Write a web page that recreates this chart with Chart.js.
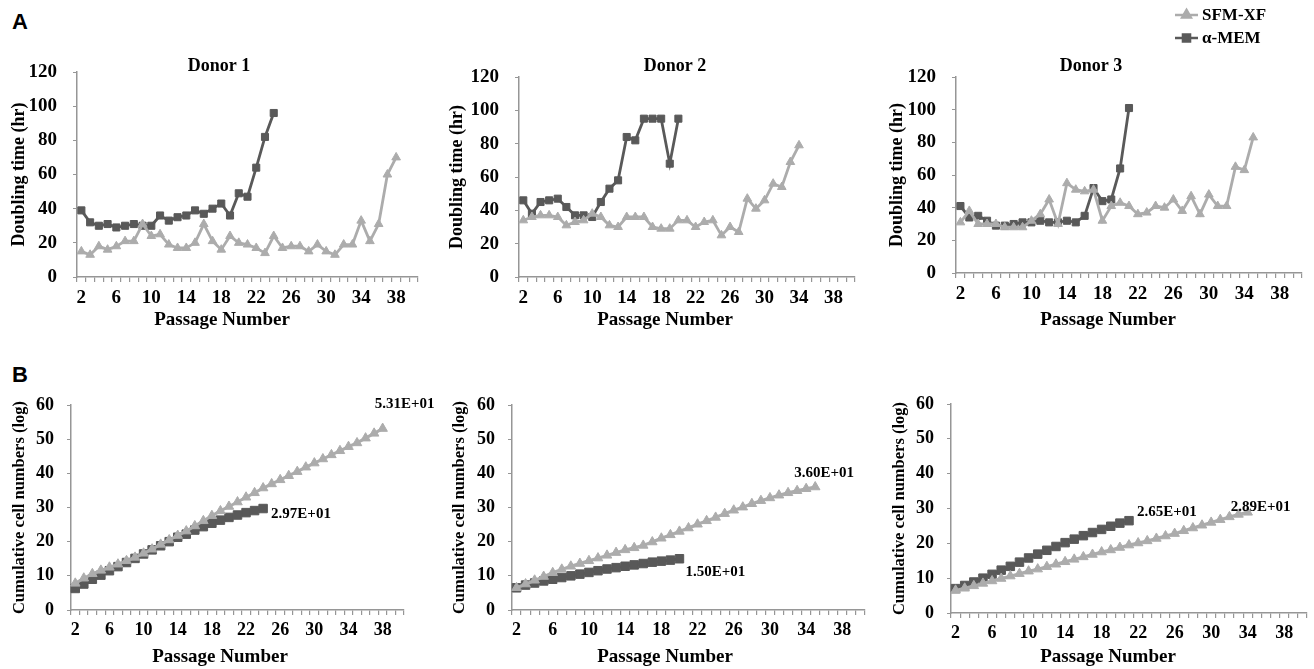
<!DOCTYPE html>
<html>
<head>
<meta charset="utf-8">
<script src="https://cdn.jsdelivr.net/npm/chart.js"></script>
<style>
  body { margin: 0; background: #fff; width: 1314px; height: 669px; position: relative; overflow: hidden; }
  canvas { position: absolute; }
  .tag { position: absolute; font: bold 22px "Liberation Sans", Arial, sans-serif; color: #000; }
</style>
</head>
<body>
<div class="tag" style="left:12px;top:9px">A</div>
<div class="tag" style="left:12px;top:362px">B</div>

<canvas id="a1" width="436" height="335" style="left:0px;top:0px"></canvas>
<canvas id="a2" width="470" height="335" style="left:440px;top:0px"></canvas>
<canvas id="a3" width="444" height="335" style="left:870px;top:0px"></canvas>
<canvas id="b1" width="440" height="289" style="left:0px;top:380px"></canvas>
<canvas id="b2" width="440" height="289" style="left:440px;top:380px"></canvas>
<canvas id="b3" width="434" height="289" style="left:880px;top:380px"></canvas>

<script>
// passage numbers on the x axis
var passages = ['2','3','4','5','6','7','8','9','10','11','12','13','14','15','16','17','18','19','20',
                '21','22','23','24','25','26','27','28','29','30','31','32','33','34','35','36','37','38','39','40'];

// doubling time (hr)
var doublingSfm1 = [15,13,18,16,18,21,21,31,24,25,19,17,17,20,31,21,16,24,20,19,17,14,24,17,18,18,15,19,15,13,19,19,33,21,31,60,70];
var doublingMem1 = [39,32,30,31,29,30,31,30,30,36,33,35,36,39,37,40,43,36,49,47,64,82,96];
var doublingSfm2 = [34,36,37,37,36,31,33,34,38,36,31,30,36,36,36,30,29,29,34,34,30,33,34,25,30,27,47,41,46,56,54,69,79];
var doublingMem2 = [46,38,45,46,47,42,37,37,36,45,53,58,84,82,95,95,95,68,95];
var doublingSfm3 = [31,38,30,30,30,28,28,28,32,36,45,30,55,51,50,51,32,41,43,41,36,37,41,40,45,38,47,36,48,41,41,65,63,83];
var doublingMem3 = [41,34,35,32,29,29,30,31,31,32,31,31,32,31,35,52,44,45,64,101];

// cumulative cell numbers (log)
var cumSfm1 = [7.8,9.3,10.6,11.6,12.5,13.4,14.4,15.4,16.6,17.8,19.2,20.5,21.8,23.1,24.6,26.1,27.6,29.0,30.3,31.6,33.0,34.3,35.7,36.9,38.1,39.3,40.5,41.8,43.0,44.2,45.4,46.6,47.8,48.9,50.3,51.7,53.1];
var cumMem1 = [6.3,7.6,9.0,10.2,11.5,12.7,13.9,15.1,16.4,17.6,18.8,20.0,21.3,22.2,23.4,24.4,25.4,26.3,27.1,27.8,28.5,29.1,29.7];
var cumSfm2 = [6.5,7.6,8.7,9.8,10.9,11.9,12.8,13.6,14.4,15.2,16.0,16.8,17.6,18.2,18.9,19.9,21.0,22.0,23.0,24.0,25.1,26.1,27.1,28.2,29.2,30.1,31.1,32.0,32.8,33.6,34.3,34.9,35.5,36.0];
var cumMem2 = [6.5,7.3,7.9,8.5,9.0,9.5,10.0,10.5,11.0,11.5,12.0,12.4,12.8,13.2,13.6,14.0,14.3,14.6,15.0];
var cumSfm3 = [6.5,7.1,7.8,8.5,9.2,9.9,10.6,11.3,12.0,12.6,13.3,14.0,14.7,15.4,16.1,16.8,17.5,18.1,18.8,19.5,20.1,20.7,21.4,22.1,22.8,23.6,24.4,25.2,26.0,26.8,27.6,28.3,28.9];
var cumMem3 = [7.0,7.9,8.9,10.0,11.1,12.3,13.4,14.6,15.8,16.9,18.0,19.1,20.2,21.2,22.2,23.1,24.0,24.9,25.8,26.5];

// final values printed at the end of each curve
var endTexts1 = ['5.31E+01', '2.97E+01'];
var endTexts2 = ['3.60E+01', '1.50E+01'];
var endTexts3 = ['2.89E+01', '2.65E+01'];

var SFM_COLOR = '#acacac';
var MEM_COLOR = '#595959';
var AXIS_COLOR = '#969696';
var SERIF = '"Liberation Serif", "Times New Roman", serif';

// legend in the top right corner (drawn on the Donor 3 canvas)
var cornerLegend = {
    id: 'cornerLegend',
    afterDraw: function (chart, args, opts) {
        if (!opts.show) return;
        var ctx = chart.ctx;
        ctx.save();
        chart.data.datasets.forEach(function (ds, i) {
            var y = opts.y + i * opts.gap;
            ctx.strokeStyle = ds.borderColor;
            ctx.lineWidth = 2.5;
            ctx.beginPath();
            ctx.moveTo(opts.x, y);
            ctx.lineTo(opts.x + 23, y);
            ctx.stroke();
            ctx.fillStyle = ds.borderColor;
            Chart.helpers.drawPoint(ctx, { pointStyle: ds.pointStyle, radius: 5, borderWidth: 1 }, opts.x + 11.5, y);
            ctx.fillStyle = '#000';
            ctx.font = 'bold 17px ' + SERIF;
            ctx.textBaseline = 'middle';
            ctx.textAlign = 'left';
            ctx.fillText(ds.label, opts.x + 27, y + 1);
        });
        ctx.restore();
    }
};

// panel heading and x axis caption, placed where the figure has them
var panelText = {
    id: 'panelText',
    afterDraw: function (chart, args, opts) {
        var ctx = chart.ctx;
        ctx.save();
        ctx.fillStyle = '#000';
        ctx.textAlign = 'center';
        ctx.textBaseline = 'middle';
        (opts.items || []).forEach(function (it) {
            ctx.font = 'bold ' + it.size + 'px ' + SERIF;
            ctx.fillText(it.text, it.x, it.y);
        });
        ctx.restore();
    }
};

// value text next to the last point of each curve
var endLabels = {
    id: 'endLabels',
    afterDatasetsDraw: function (chart, args, opts) {
        if (!opts.texts) return;
        var ctx = chart.ctx;
        ctx.save();
        ctx.font = 'bold 15px ' + SERIF;
        ctx.fillStyle = '#000';
        ctx.textBaseline = 'middle';
        ctx.textAlign = 'left';
        opts.texts.forEach(function (t, i) {
            var pts = chart.getDatasetMeta(i).data;
            var p = pts[pts.length - 1];
            ctx.fillText(t, p.x + opts.offsets[i][0], p.y + opts.offsets[i][1]);
        });
        ctx.restore();
    }
};

function makePanel(id, cfg) {
    var items = [{ text: 'Passage Number', x: cfg.xTitleX, y: cfg.xTitleY, size: 19 }];
    if (cfg.title) items.push({ text: cfg.title, x: cfg.titleX, y: 66, size: 18 });
    return new Chart(document.getElementById(id), {
        type: 'line',
        data: {
            labels: passages,
            datasets: [
                {
                    label: 'SFM-XF',
                    data: cfg.sfm,
                    borderColor: SFM_COLOR,
                    backgroundColor: SFM_COLOR,
                    borderWidth: cfg.lineW,
                    pointStyle: 'triangle',
                    pointRadius: cfg.triR,
                    pointBorderWidth: 1,
                    tension: 0
                },
                {
                    label: 'α-MEM',
                    data: cfg.mem,
                    borderColor: MEM_COLOR,
                    backgroundColor: MEM_COLOR,
                    borderWidth: cfg.lineW,
                    pointStyle: 'rect',
                    pointRadius: cfg.rectR,
                    pointBorderWidth: 1,
                    tension: 0
                }
            ]
        },
        options: {
            responsive: false,
            animation: false,
            events: [],
            layout: { padding: { top: cfg.padTop, right: cfg.padRight, left: 0, bottom: 0 } },
            plugins: {
                legend: { display: false },
                tooltip: { enabled: false },
                title: { display: false },
                cornerLegend: cfg.legend || { show: false },
                panelText: { items: items },
                endLabels: cfg.ends || {}
            },
            scales: {
                x: {
                    type: 'category',
                    offset: true,
                    afterFit: function (s) { s.height = cfg.xH; },
                    border: { display: true, color: AXIS_COLOR, width: 1.5 },
                    grid: { display: true, offset: true, drawOnChartArea: false, drawTicks: true, tickLength: 5, color: AXIS_COLOR, lineWidth: 1.2 },
                    ticks: {
                        autoSkip: false,
                        maxRotation: 0,
                        padding: 5,
                        color: '#000',
                        font: { family: SERIF, weight: 'bold', size: cfg.tickSize },
                        callback: function (val, idx) { return idx % 4 === 0 ? this.getLabelForValue(val) : ''; }
                    }
                },
                y: {
                    min: 0,
                    max: cfg.yMax,
                    afterFit: function (s) { s.width = cfg.yW; },
                    border: { display: true, color: AXIS_COLOR, width: 1.5 },
                    grid: { display: true, drawOnChartArea: false, drawTicks: true, tickLength: 4, color: AXIS_COLOR },
                    ticks: { stepSize: cfg.yStep, padding: cfg.yPad, color: '#000', font: { family: SERIF, weight: 'bold', size: cfg.tickSize } },
                    title: {
                        display: true,
                        text: cfg.yTitle,
                        color: '#000',
                        font: { family: SERIF, weight: 'bold', size: cfg.yTitleSize },
                        padding: { top: cfg.yTitlePad, bottom: 0 }
                    }
                }
            }
        },
        plugins: [cornerLegend, panelText, endLabels]
    });
}

var topCommon = {
    yMax: 120, yStep: 20, tickSize: 19, lineW: 2.8, triR: 5, rectR: 5,
    yTitle: 'Doubling time (hr)', yTitleSize: 18, yPad: 16, xTitleY: 320
};
var bottomCommon = {
    yMax: 60, yStep: 10, tickSize: 18, lineW: 3, triR: 5.5, rectR: 6,
    yTitle: 'Cumulative cell numbers (log)', yTitleSize: 16.5, yPad: 13, xTitleY: 277
};

makePanel('a1', Object.assign({}, topCommon, {
    title: 'Donor 1', titleX: 219, xTitleX: 222, sfm: doublingSfm1, mem: doublingMem1,
    yW: 77, padRight: 18, padTop: 72, xH: 58, yTitlePad: 9
}));
makePanel('a2', Object.assign({}, topCommon, {
    title: 'Donor 2', titleX: 235, xTitleX: 225, sfm: doublingSfm2, mem: doublingMem2,
    yW: 79, padRight: 55, padTop: 77, xH: 58, yTitlePad: 7
}));
makePanel('a3', Object.assign({}, topCommon, {
    title: 'Donor 3', titleX: 221, xTitleX: 238, sfm: doublingSfm3, mem: doublingMem3,
    yW: 86, padRight: 12, padTop: 77, xH: 62, yTitlePad: 17,
    legend: { show: true, x: 305, y: 15, gap: 23 }
}));

makePanel('b1', Object.assign({}, bottomCommon, {
    xTitleX: 220, sfm: cumSfm1, mem: cumMem1, yW: 71, padRight: 36, padTop: 25, xH: 59, yTitlePad: 10,
    ends: { texts: endTexts1, offsets: [[-8, -24], [8, 6]] }
}));
makePanel('b2', Object.assign({}, bottomCommon, {
    xTitleX: 225, sfm: cumSfm2, mem: cumMem2, yW: 72, padRight: 15, padTop: 25, xH: 59, yTitlePad: 10,
    ends: { texts: endTexts2, offsets: [[-21, -14], [6, 13]] }
}));
makePanel('b3', Object.assign({}, bottomCommon, {
    xTitleX: 228, sfm: cumSfm3, mem: cumMem3, yW: 71, padRight: 7, padTop: 24, xH: 56, yTitlePad: 10,
    ends: { texts: endTexts3, offsets: [[-17, -5], [8, -9]] }
}));
</script>
</body>
</html>
